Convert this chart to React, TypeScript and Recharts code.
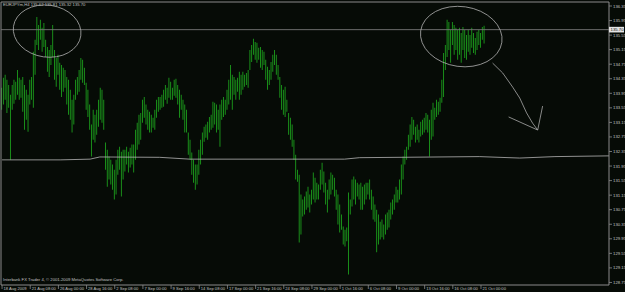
import React from 'react';
import { ComposedChart, Bar, XAxis, YAxis, ReferenceLine, ReferenceDot } from 'recharts';

const symbolHeader = 'EURJPYm,H4  135.62 135.81 135.32 135.70';
const copyright = 'Interbank FX Trader 4, \u00a9 2001-2009 MetaQuotes Software Corp.';
const currentPrice = 135.7;

const xTickIndex = [0, 16, 32, 48, 64, 80, 96, 112, 128, 144, 160, 176, 192, 208, 224, 240, 256, 272];
const xTickLabels = [
  '18 Aug 2009', '21 Aug 08:00', '26 Aug 00:00', '28 Aug 16:00', '2 Sep 08:00', '7 Sep 00:00',
  '9 Sep 16:00', '14 Sep 08:00', '17 Sep 00:00', '21 Sep 16:00', '24 Sep 08:00', '29 Sep 00:00',
  '1 Oct 16:00', '6 Oct 08:00', '9 Oct 00:00', '13 Oct 16:00', '16 Oct 08:00', '21 Oct 00:00',
];
const yTicks = [
  128.75, 129.15, 129.55, 129.95, 130.35, 130.75, 131.15, 131.55, 131.95, 132.35,
  132.75, 133.15, 133.55, 133.95, 134.35, 134.75, 135.15, 135.55, 135.95, 136.35,
];

const highs = [
  134.10, 134.38, 134.46, 134.32, 134.18, 133.91, 134.18, 134.32, 134.27, 134.59,
  134.38, 134.32, 134.40, 134.18, 134.05, 133.91, 134.32, 134.40, 135.09, 135.42,
  136.05, 135.83, 135.97, 135.75, 135.88, 135.42, 135.22, 135.14, 135.28, 135.83,
  135.14, 134.92, 135.01, 134.79, 134.73, 134.65, 134.59, 134.40, 134.32, 134.05,
  133.77, 133.91, 134.32, 134.40, 134.59, 134.92, 134.87, 134.65, 134.24, 134.05,
  133.64, 133.09, 133.50, 133.36, 133.50, 133.77, 134.10, 134.05, 133.77, 132.60,
  132.40, 132.21, 132.12, 131.99, 131.85, 132.12, 132.40, 132.48, 132.34, 132.40,
  132.40, 132.48, 132.34, 132.45, 132.54, 132.54, 132.95, 133.14, 133.36, 133.41,
  133.77, 133.85, 133.64, 133.50, 133.44, 133.36, 133.28, 133.50, 133.77, 133.85,
  133.85, 133.91, 134.05, 134.18, 134.10, 134.38, 134.27, 134.10, 134.32, 134.35,
  134.18, 134.05, 133.91, 133.77, 133.64, 133.50, 132.87, 132.67, 132.32, 132.12,
  131.99, 131.99, 132.40, 132.67, 132.87, 133.03, 133.09, 133.17, 133.30, 133.36,
  133.72, 133.69, 133.64, 133.50, 133.64, 133.77, 133.85, 133.77, 134.05, 134.32,
  134.73, 134.46, 134.40, 134.32, 134.38, 134.54, 134.46, 134.54, 134.46, 134.51,
  134.59, 135.14, 135.28, 135.45, 135.36, 135.34, 135.20, 135.22, 135.14, 135.09,
  134.87, 134.68, 134.59, 134.81, 135.01, 135.14, 135.01, 134.73, 134.40, 134.18,
  134.05, 134.13, 133.77, 133.41, 133.28, 133.09, 132.67, 132.26, 131.85, 131.71,
  131.17, 131.03, 131.11, 131.25, 131.38, 131.17, 131.30, 131.77, 131.63, 131.49,
  131.44, 131.85, 132.04, 131.80, 131.49, 131.30, 131.58, 131.77, 131.71, 131.63,
  131.30, 131.17, 130.89, 130.62, 130.29, 130.20, 130.26, 131.22, 131.03, 131.58,
  131.66, 131.58, 131.49, 131.44, 131.49, 131.38, 131.44, 131.49, 131.49, 131.58,
  131.30, 131.11, 130.89, 130.75, 130.62, 130.42, 130.48, 130.34, 130.62, 130.67,
  130.75, 130.95, 131.03, 131.17, 131.38, 131.30, 131.58, 131.99, 132.21, 132.40,
  132.48, 132.81, 133.09, 133.30, 133.22, 133.03, 133.09, 132.95, 133.17, 133.22,
  133.28, 133.41, 133.36, 133.22, 133.50, 133.69, 133.55, 133.77, 133.72, 133.83,
  134.32, 135.06, 135.28, 135.97, 135.91, 135.69, 135.91, 135.83, 135.75, 135.69,
  135.75, 135.61, 135.77, 135.69, 135.55, 135.69, 135.55, 135.75, 135.61, 135.47,
  135.64, 135.69, 135.61, 135.77, 135.81,
];

const lows = [
  133.50, 133.64, 133.77, 133.41, 133.55, 132.12, 133.50, 133.66, 133.77, 133.91,
  133.77, 133.83, 133.44, 132.95, 133.22, 132.89, 133.64, 133.77, 133.55, 134.46,
  135.28, 135.14, 135.42, 135.09, 135.22, 134.95, 134.54, 134.40, 134.73, 134.95,
  134.32, 134.13, 134.46, 134.05, 133.85, 133.99, 134.10, 133.64, 133.36, 133.22,
  132.87, 133.09, 133.77, 133.91, 133.99, 134.32, 134.24, 134.18, 133.50, 133.30,
  132.95, 132.21, 132.67, 132.60, 132.81, 133.03, 133.22, 133.14, 132.95, 131.85,
  131.38, 131.58, 131.44, 131.30, 131.03, 131.17, 131.71, 131.85, 131.11, 131.58,
  131.80, 131.99, 131.77, 131.91, 131.99, 131.77, 132.12, 132.40, 132.54, 132.67,
  133.14, 133.28, 133.09, 132.95, 132.87, 132.87, 133.00, 132.95, 133.28, 133.44,
  133.50, 133.55, 133.58, 133.77, 133.66, 133.83, 133.77, 133.77, 133.88, 133.83,
  133.64, 133.28, 133.50, 133.22, 132.87, 132.87, 132.26, 132.12, 131.71, 131.49,
  131.30, 131.44, 131.71, 131.99, 132.26, 132.62, 132.73, 132.67, 132.87, 132.95,
  133.00, 133.09, 132.87, 132.95, 132.48, 133.22, 133.30, 133.36, 133.50, 133.64,
  133.77, 133.50, 133.91, 133.77, 133.99, 133.77, 133.91, 134.05, 134.13, 134.18,
  134.10, 134.59, 134.81, 135.01, 134.87, 134.79, 134.87, 134.65, 134.59, 134.73,
  134.32, 134.05, 134.18, 134.32, 134.54, 134.73, 134.46, 134.32, 133.83, 133.50,
  133.36, 133.30, 133.44, 132.81, 132.67, 132.48, 132.12, 131.58, 131.52, 129.85,
  130.07, 130.56, 130.62, 130.75, 130.81, 130.67, 130.89, 131.03, 130.95, 131.03,
  131.03, 131.30, 131.44, 131.22, 130.89, 130.67, 131.03, 131.17, 131.30, 131.11,
  130.75, 130.34, 130.12, 130.20, 129.79, 129.74, 129.88, 128.97, 130.62, 130.84,
  131.03, 130.89, 131.11, 131.03, 130.75, 130.75, 130.89, 131.03, 131.17, 131.03,
  130.75, 130.48, 130.42, 129.58, 129.79, 129.93, 129.99, 129.93, 130.07, 130.20,
  130.26, 130.48, 130.62, 130.75, 130.95, 130.95, 131.03, 131.17, 131.58, 131.99,
  132.12, 132.40, 132.48, 132.67, 132.81, 132.60, 132.67, 132.60, 132.76, 132.81,
  132.87, 132.95, 132.87, 132.21, 132.67, 132.76, 133.22, 133.30, 133.36, 133.44,
  133.69, 133.85, 134.59, 134.95, 135.14, 134.79, 135.28, 135.01, 135.14, 134.87,
  135.01, 134.79, 135.14, 134.92, 134.87, 135.09, 135.01, 135.20, 135.06, 135.01,
  135.14, 135.28, 135.20, 135.42, 135.32,
];

// hand-drawn horizontal line (bar index, price)
const handLineIdx = [0, 33, 50, 55.5, 89.5, 106.5, 194.5, 203, 271, 294, 314, 344.7];
const handLinePrice = [132.12, 132.12, 132.14, 132.2, 132.19, 132.14, 132.14, 132.18, 132.21, 132.17, 132.21, 132.23];

// hand-drawn arrow (bar index, price)
const arrowIdx = [278.6, 284.3, 290.0, 294.0, 297.9, 301.3, 304.2];
const arrowPrice = [134.78, 134.51, 134.12, 133.82, 133.41, 133.13, 132.94];
const arrowHeadIdx = [287.7, 307.0];
const arrowHeadPrice = [133.3, 133.6];

// hand-drawn ellipses (centre: bar index, price)
const ellipseIdx = [25.6, 260.8];
const ellipsePrice = [135.66, 135.51];

const data = highs.map((h, i) => ({ i, high: h, low: lows[i] }));

const X_MIN = -0.6;
const X_MAX = 344.7;
const Y_MIN = 128.68;
const Y_MAX = 136.46;

const FRAME = '#8a8a8a';
const TXT = '#c0c0c0';
const DRAW = '#a9a9a9';
const FONT = '"Liberation Sans", Arial, sans-serif';

const XTick = (props: any) => {
  const { x, y, payload } = props;
  const k = xTickIndex.indexOf(payload.value);
  return (
    <g>
      <line x1={x} x2={x} y1={y} y2={y + 4} stroke={FRAME} strokeWidth={0.8} />
      <text x={x + 1.5} y={y + 5.4} fontSize={4.1} fill={TXT} fontFamily={FONT}>
        {k >= 0 ? xTickLabels[k] : ''}
      </text>
    </g>
  );
};

const YTick = (props: any) => {
  const { x, y, payload } = props;
  return (
    <g>
      <line x1={x} x2={x + 3} y1={y} y2={y} stroke={FRAME} strokeWidth={0.8} />
      <text x={x + 4} y={y + 1.5} fontSize={4.3} fill={TXT} fontFamily={FONT}>
        {payload.value.toFixed(2)}
      </text>
    </g>
  );
};

const segs = (xs: number[], ys: number[]) => {
  const out: { x: number; y: number }[][] = [];
  for (let k = 0; k < xs.length - 1; k++) {
    out.push([
      { x: xs[k], y: ys[k] },
      { x: xs[k + 1], y: ys[k + 1] },
    ]);
  }
  return out;
};

export default function App() {
  const handSegs = segs(handLineIdx, handLinePrice);
  const arrowSegs = segs(arrowIdx, arrowPrice);
  const tip = { x: arrowIdx[arrowIdx.length - 1], y: arrowPrice[arrowPrice.length - 1] };
  const ellipseSizes = [
    { rx: 34, ry: 26, rot: 8 },
    { rx: 41, ry: 30, rot: 8 },
  ];
  return (
    <div style={{ position: 'absolute', left: 0, top: 0, width: 625, height: 292, background: '#060b06', overflow: 'hidden' }}>
      <ComposedChart
        width={625}
        height={292}
        data={data}
        margin={{ top: 2, right: 0, bottom: 0, left: 1 }}
      >
        <XAxis
          dataKey="i"
          type="number"
          domain={[X_MIN, X_MAX]}
          allowDataOverflow
          ticks={xTickIndex}
          interval={0}
          height={7}
          tickSize={0}
          tickMargin={0}
          axisLine={{ stroke: FRAME, strokeWidth: 1 }}
          tickLine={false}
          tick={<XTick />}
        />
        <YAxis
          orientation="right"
          type="number"
          domain={[Y_MIN, Y_MAX]}
          allowDataOverflow
          ticks={yTicks}
          interval={0}
          width={16}
          tickSize={0}
          tickMargin={0}
          axisLine={{ stroke: FRAME, strokeWidth: 1 }}
          tickLine={false}
          tick={<YTick />}
        />
        <ReferenceLine x={X_MIN} stroke={FRAME} strokeWidth={1} ifOverflow="visible" />
        <ReferenceLine y={Y_MAX} stroke={FRAME} strokeWidth={1} ifOverflow="visible" />
        <ReferenceLine y={currentPrice} stroke="#767676" strokeWidth={0.9} />
        {handSegs.map((s, k) => (
          <ReferenceLine key={'h' + k} segment={s} stroke="#b4b4b4" strokeWidth={0.8} ifOverflow="visible" />
        ))}
        <Bar
          dataKey={(d: any) => [d.low, d.high]}
          fill="#1c9c1c"
          barSize={0.9}
          isAnimationActive={false}
        />
        {ellipseIdx.map((ix, k) => (
          <ReferenceDot
            key={'e' + k}
            x={ix}
            y={ellipsePrice[k]}
            r={1}
            ifOverflow="visible"
            shape={(p: any) => (
              <ellipse
                cx={p.cx}
                cy={p.cy}
                rx={ellipseSizes[k].rx}
                ry={ellipseSizes[k].ry}
                transform={`rotate(${ellipseSizes[k].rot} ${p.cx} ${p.cy})`}
                fill="none"
                stroke={DRAW}
                strokeWidth={0.8}
              />
            )}
          />
        ))}
        {arrowSegs.map((s, k) => (
          <ReferenceLine key={'a' + k} segment={s} stroke={DRAW} strokeWidth={0.8} ifOverflow="visible" />
        ))}
        {arrowHeadIdx.map((ix, k) => (
          <ReferenceLine
            key={'ah' + k}
            segment={[{ x: ix, y: arrowHeadPrice[k] }, tip]}
            stroke={DRAW}
            strokeWidth={0.8}
            ifOverflow="visible"
          />
        ))}
        <ReferenceDot
          x={X_MAX}
          y={currentPrice}
          r={1}
          ifOverflow="visible"
          shape={(p: any) => (
            <g>
              <rect x={p.cx} y={p.cy - 2.8} width={15} height={5.6} fill="#e4e4e4" />
              <text x={p.cx + 1.5} y={p.cy + 1.6} fontSize={4.3} fill="#0a0a0a" fontFamily={FONT}>
                {currentPrice.toFixed(2)}
              </text>
            </g>
          )}
        />
      </ComposedChart>
      <svg width={625} height={292} style={{ position: 'absolute', left: 0, top: 0, pointerEvents: 'none' }}>
        <text x={3} y={5.6} fontSize={4.2} fill={TXT} fontFamily={FONT}>{symbolHeader}</text>
        <text x={3} y={281} fontSize={4.2} fill={TXT} fontFamily={FONT}>{copyright}</text>
      </svg>
    </div>
  );
}
